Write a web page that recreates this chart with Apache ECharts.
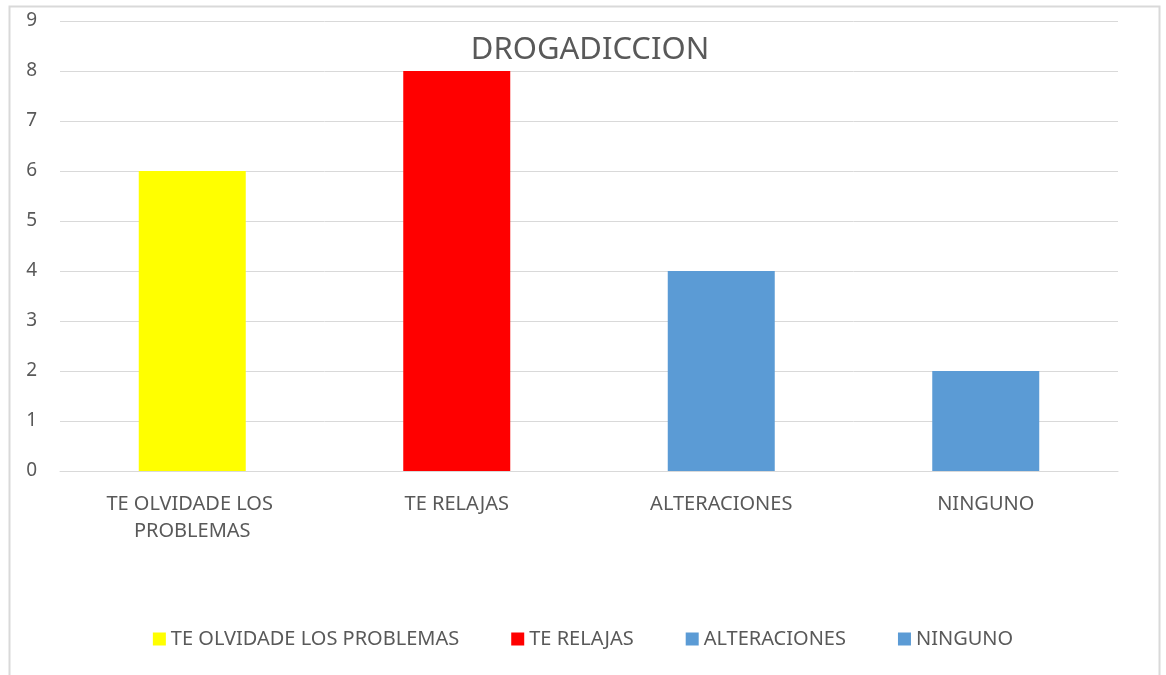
<!DOCTYPE html>
<html>
<head>
<meta charset="utf-8">
<script src="https://cdn.jsdelivr.net/npm/echarts@6/dist/echarts.min.js"></script>
<style>
  html, body { margin: 0; padding: 0; background: #fff; }
  #chart { width: 1166px; height: 675px; }
</style>
</head>
<body>
<div id="chart"></div>
<script>
const categories = ['TE OLVIDADE LOS PROBLEMAS', 'TE RELAJAS', 'ALTERACIONES', 'NINGUNO']
const values = [6, 8, 4, 2]
const barColors = ['#ffff00', '#ff0000', '#5b9bd5', '#5b9bd5']
const yTicks = [0, 1, 2, 3, 4, 5, 6, 7, 8, 9]

const chart = echarts.init(document.getElementById('chart'))
const font = '"Noto Sans", "Open Sans", sans-serif'

// one series per category so the legend shows each one
const series = categories.map((name, i) => ({
  name,
  type: 'bar',
  stack: 'all',
  barWidth: 107,
  itemStyle: { color: barColors[i] },
  data: categories.map((c, j) => (j === i ? values[i] : '-'))
}))

chart.setOption({
  animation: false,
  textStyle: { fontFamily: font },
  title: {
    text: 'DROGADICCION',
    left: 585,
    textAlign: 'center',
    top: 30,
    textStyle: { color: '#595959', fontSize: 31, fontWeight: 'normal', fontFamily: font }
  },
  graphic: [{
    type: 'rect',
    shape: { x: 9.5, y: 6.5, width: 1150, height: 700 },
    style: { fill: 'none', stroke: '#d9d9d9', lineWidth: 2 },
    silent: true
  }],
  legend: {
    bottom: 21,
    left: 'center',
    icon: 'rect',
    itemWidth: 13,
    itemHeight: 13,
    itemGap: 52,
    textStyle: { color: '#595959', fontSize: 20, fontFamily: font },
    data: categories
  },
  grid: { left: 60, right: 48, top: 21, bottom: 204, containLabel: false },
  xAxis: {
    type: 'category',
    data: categories,
    axisTick: { show: false },
    axisLine: { lineStyle: { color: '#d9d9d9', width: 1 } },
    axisLabel: {
      interval: 0,
      color: '#595959',
      fontSize: 20,
      margin: 20,
      lineHeight: 27,
      width: 220,
      overflow: 'break'
    }
  },
  yAxis: {
    type: 'value',
    min: yTicks[0],
    max: yTicks[yTicks.length - 1],
    interval: 1,
    axisLine: { show: false },
    axisTick: { show: false },
    axisLabel: { color: '#595959', fontSize: 19, margin: 23 },
    splitLine: { lineStyle: { color: '#d9d9d9', width: 1 } }
  },
  series
})
</script>
</body>
</html>
